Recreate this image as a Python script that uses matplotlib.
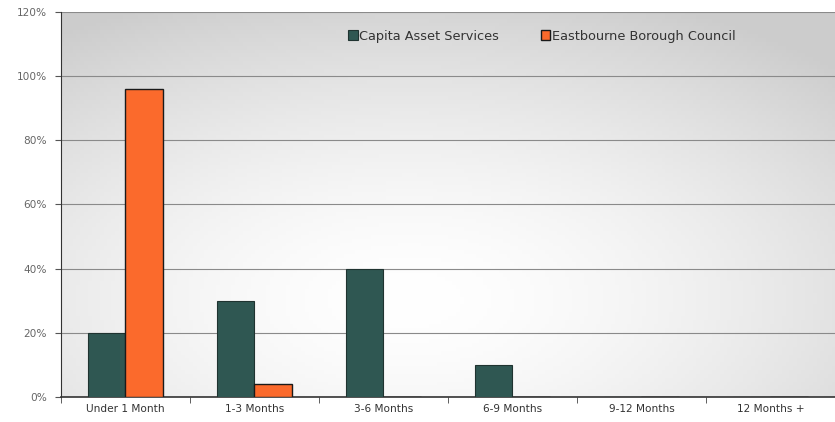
import matplotlib
matplotlib.use("Agg")
import matplotlib.pyplot as plt
import numpy as np

categories = ["Under 1 Month", "1-3 Months", "3-6 Months", "6-9 Months", "9-12 Months", "12 Months +"]
capita = [20, 30, 40, 10, 0, 0]
eastbourne = [96, 4, 0, 0, 0, 0]
yticks = [0, 20, 40, 60, 80, 100, 120]
ytick_labels = ["0%", "20%", "40%", "60%", "80%", "100%", "120%"]

fig = plt.figure(figsize=(8.35, 4.22), dpi=100)
ax = fig.add_axes([0.073, 0.059, 0.927, 0.913])

x = np.arange(len(categories))
w = 0.29

# background gradient
gx, gy = np.meshgrid(np.linspace(0, 1, 200), np.linspace(0, 1, 100))
d = np.sqrt(((gx - 0.45) / 0.8) ** 2 + ((gy - 0.25) / 0.85) ** 2)
shade = 1.0 - 0.2 * np.clip(d, 0, 1) ** 1.6
img = np.dstack([shade, shade, shade])
ax.imshow(img, extent=[-0.5, 5.5, 0, 120], origin="lower", aspect="auto", zorder=0)

ax.bar(x - w / 2, capita, w, color="#2f5752", edgecolor="#1f3330", linewidth=0.8, zorder=3, label="Capita Asset Services")
ax.bar(x + w / 2, eastbourne, w, color="#fb6a2c", edgecolor="#1a1a1a", linewidth=1.0, zorder=3, label="Eastbourne Borough Council")

ax.set_xlim(-0.5, 5.5)
ax.set_ylim(0, 120)
ax.set_yticks(yticks)
ax.set_yticklabels(ytick_labels)
ax.set_xticks(x)
ax.set_xticklabels(categories)
ax.set_xticks(np.arange(-0.5, 6.0, 1.0), minor=True)
ax.tick_params(axis="x", which="major", length=0, labelsize=7.6, colors="#333333", pad=5)
ax.tick_params(axis="x", which="minor", length=4, color="#444444")
ax.tick_params(axis="y", length=4, labelsize=7.6, colors="#555555", pad=6)
for lbl in ax.get_yticklabels():
    lbl.set_color("#666666")

ax.yaxis.grid(True, color="#8a8a8a", linewidth=0.8, linestyle="-", zorder=1)
for s in ["top", "right"]:
    ax.spines[s].set_visible(False)
ax.spines["left"].set_color("#333333")
ax.spines["bottom"].set_color("#333333")
ax.spines["bottom"].set_linewidth(1.2)

leg = ax.legend(loc="upper left", bbox_to_anchor=(0.364, 0.967), ncol=2, frameon=False,
                fontsize=9.3, handlelength=0.75, handleheight=0.75, handletextpad=0.15, columnspacing=3.2,
                borderaxespad=0.0)
for t in leg.get_texts():
    t.set_color("#333333")

fig.savefig("out.png", dpi=100)
